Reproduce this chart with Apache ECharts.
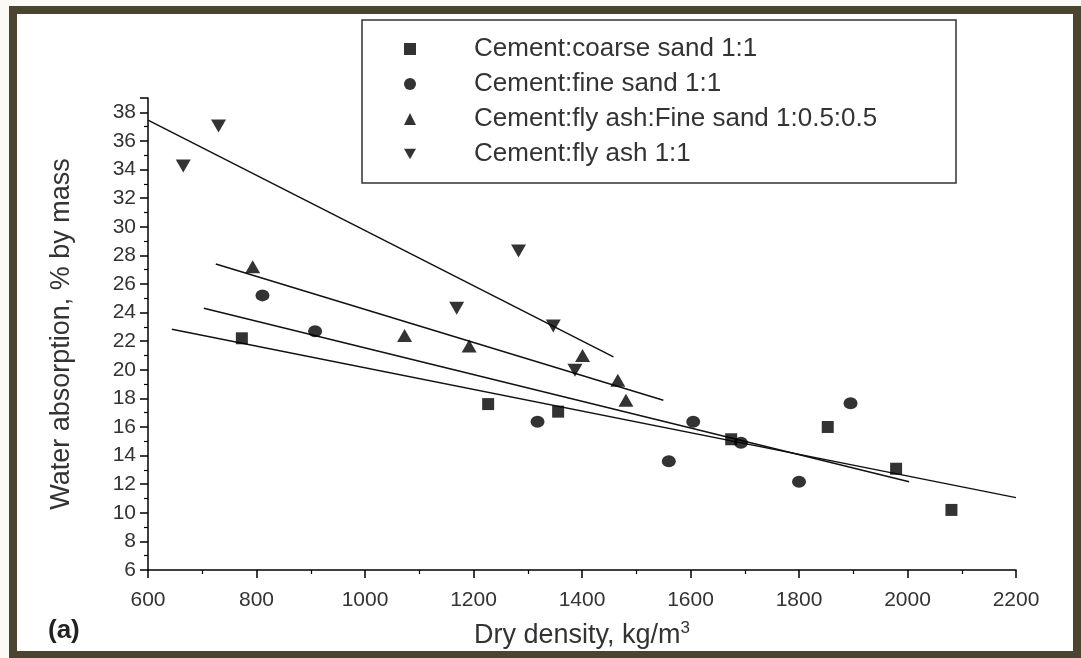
<!DOCTYPE html>
<html>
<head>
<meta charset="utf-8">
<script src="https://cdn.jsdelivr.net/npm/echarts@6/dist/echarts.min.js"></script>
<style>
html,body{margin:0;padding:0;background:#fbfaf4;}
#c{width:1081px;height:658px;}
</style>
</head>
<body>
<div id="c"></div>
<script>
// Series names
const seriesNames = [
  'Cement:coarse sand 1:1',
  'Cement:fine sand 1:1',
  'Cement:fly ash:Fine sand 1:0.5:0.5',
  'Cement:fly ash 1:1'
];
// [dry density, water absorption]
const coarseSand = [[773,22.2],[1227,17.6],[1356,17.07],[1675,15.14],[1853,16.0],[1979,13.08],[2081,10.2]];
const fineSand = [[811,25.2],[908,22.7],[1318,16.37],[1560,13.6],[1605,16.37],[1693,14.9],[1800,12.17],[1895,17.66]];
const flyAshFineSand = [[793,27.2],[1073,22.4],[1192,21.66],[1401,21.0],[1466,19.27],[1481,17.87]];
const flyAsh = [[665,34.25],[730,37.05],[1169,24.3],[1283,28.3],[1347,23.06],[1387,19.96]];
// Linear fit end points
const coarseFit = [[644,22.83],[2200,11.06]];
const fineFit = [[703,24.3],[2003,12.17]];
const flyFineFit = [[725,27.4],[1550,17.87]];
const flyFit = [[600,37.45],[1458,20.9]];

const xTicks = {min:600, max:2200, interval:200};
const yTicks = {min:6, max:39, interval:2};

const invTri = 'path://M0,0 L10,0 L5,8.66 Z';
const symbols = ['rect','circle','triangle',invTri];
const symSizes = [12,[14,12],[15,13],[15,13]];
const datasets = [coarseSand, fineSand, flyAshFineSand, flyAsh];
const fits = [coarseFit, fineFit, flyFineFit, flyFit];

const font = 'Liberation Sans, Arial, Helvetica, sans-serif';
const series = [];
datasets.forEach((d,i)=>{
  series.push({
    name: seriesNames[i], type:'scatter', data:d,
    symbol: symbols[i], symbolSize: symSizes[i],
    itemStyle:{color:'#000'}, z:5
  });
});
fits.forEach((f,i)=>{
  series.push({
    name:'fit'+i, type:'line', data:f, showSymbol:false, symbol:'none',
    lineStyle:{color:'#111', width:1.5}, silent:true, z:4
  });
});

const chart = echarts.init(document.getElementById('c'), null, {renderer:'canvas'});
chart.setOption({
  backgroundColor:'#fbfaf4',
  animation:false,
  grid:{left:148, right:65, top:98, bottom:88, containLabel:false},
  legend:{
    data: seriesNames.map((n,i)=>({name:n, icon:symbols[i]})),
    orient:'vertical', left:404, top:36, padding:0,
    itemWidth:12, itemHeight:12, itemGap:9,
    selectedMode:false,
    textStyle:{fontFamily:font, fontSize:26, color:'#333', padding:[0,0,0,53]}
  },
  xAxis:{
    type:'value', min:xTicks.min, max:xTicks.max, interval:xTicks.interval,
    name:'{t|Dry density, kg/m}{s|3}', nameLocation:'middle', nameGap:50,
    nameTextStyle:{rich:{t:{fontFamily:font, fontSize:27, color:'#333'}, s:{fontFamily:font, fontSize:17, color:'#333', verticalAlign:'top', padding:[0,0,14,0]}}},
    axisLine:{lineStyle:{color:'#000', width:1.5}},
    axisTick:{length:8, lineStyle:{color:'#000', width:1.5}},
    minorTick:{show:true, splitNumber:2, length:4, lineStyle:{color:'#000', width:1.2}},
    splitLine:{show:false},
    axisLabel:{fontFamily:font, fontSize:21, color:'#333', margin:20, formatter:v=>String(v)}
  },
  yAxis:{
    type:'value', min:yTicks.min, max:yTicks.max, interval:yTicks.interval,
    name:'Water absorption, % by mass', nameLocation:'middle', nameGap:73, nameRotate:90,
    nameTextStyle:{fontFamily:font, fontSize:27, color:'#333'},
    axisLine:{lineStyle:{color:'#000', width:1.5}},
    axisTick:{length:8, lineStyle:{color:'#000', width:1.5}},
    minorTick:{show:true, splitNumber:2, length:4, lineStyle:{color:'#000', width:1.2}},
    splitLine:{show:false},
    axisLabel:{fontFamily:font, fontSize:21, color:'#333', margin:12,
      formatter:v=> (v%2===0 ? String(v) : '')}
  },
  graphic:[
    {type:'rect', z:-10, shape:{x:13, y:10, width:1064, height:645},
     style:{fill:'#ffffff', stroke:'#4a4430', lineWidth:8}},
    {type:'rect', z:-5, shape:{x:362, y:20, width:594, height:163},
     style:{fill:'#ffffff', stroke:'#333', lineWidth:1.5}},
    {type:'text', left:48, top:618, style:{text:'(a)', font:'bold 26px Liberation Sans, Arial, sans-serif', fill:'#222'}}
  ],
  series: series
});
</script>
</body>
</html>
